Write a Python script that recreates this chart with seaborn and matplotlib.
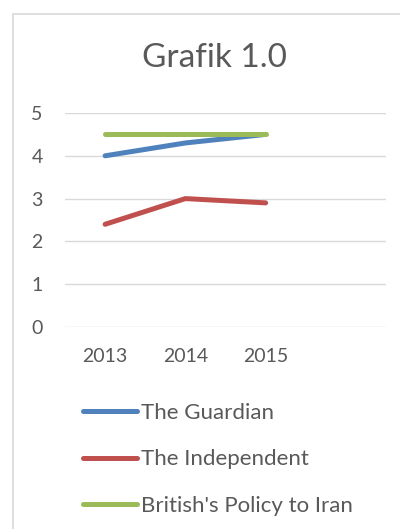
import matplotlib
matplotlib.use("Agg")
import matplotlib.pyplot as plt
import seaborn as sns
import pandas as pd
from matplotlib.patches import Rectangle

categories = ["2013", "2014", "2015", ""]
series_names = ["The Guardian", "The Independent", "British's Policy to Iran"]
guardian = [4.0, 4.3, 4.5]
independent = [2.4, 3.0, 2.9]
policy = [4.5, 4.5, 4.5]
y_ticks = [0, 1, 2, 3, 4, 5]
colors = ["#4F81BD", "#C0504D", "#9BBB59"]

rows = []
for name, vals in zip(series_names, [guardian, independent, policy]):
    for i, v in enumerate(vals):
        rows.append({"x": i, "value": v, "series": name})
df = pd.DataFrame(rows)

sns.set_theme(style="white")
plt.rcParams["font.family"] = ["Lato", "DejaVu Sans"]
text_color = "#595959"

fig = plt.figure(figsize=(4.0, 5.29), dpi=100)
fig.patch.set_facecolor("white")
fig.patches.append(Rectangle((13 / 400, -0.1), 1.2, 1 - 14 / 529 + 0.1,
                             transform=fig.transFigure, fill=False,
                             edgecolor="#D9D9D9", linewidth=1.2))

ax = fig.add_axes([65 / 400, 1 - 327 / 529, (386 - 65) / 400, (327 - 113) / 529])
sns.lineplot(data=df, x="x", y="value", hue="series", hue_order=series_names,
             palette=colors, linewidth=3.6, ax=ax, legend=True)
for line in ax.get_lines():
    line.set_solid_capstyle("round")

ax.set_xlim(-0.5, len(categories) - 0.5)
ax.set_ylim(0, 5)
ax.set_yticks(y_ticks)
ax.set_yticklabels([str(t) for t in y_ticks])
ax.set_xticks(range(len(categories)))
ax.set_xticklabels(categories)
ax.set_xlabel("")
ax.set_ylabel("")
ax.tick_params(axis="both", length=0, labelsize=14, labelcolor=text_color)
ax.tick_params(axis="y", pad=16)
ax.tick_params(axis="x", pad=15)
ax.grid(axis="y", color="#D9D9D9", linewidth=1.0)
ax.set_axisbelow(True)
for s in ax.spines.values():
    s.set_visible(False)

handles, labels = ax.get_legend_handles_labels()
for h in handles:
    h.set_solid_capstyle("round")
    h.set_linewidth(3.6)
leg = ax.legend(handles, labels, loc="upper left",
                bbox_to_anchor=(83 / 400, 1 - 403 / 529), bbox_transform=fig.transFigure,
                frameon=False, fontsize=16, handlelength=2.45, handletextpad=0.18,
                labelspacing=1.19, borderaxespad=0, borderpad=0)
for t in leg.get_texts():
    t.set_color(text_color)

fig.text(214.5 / 400, 1 - 58 / 529, "Grafik 1.0", ha="center", va="center",
         fontsize=24, color=text_color)

fig.savefig("out.png", dpi=100)
